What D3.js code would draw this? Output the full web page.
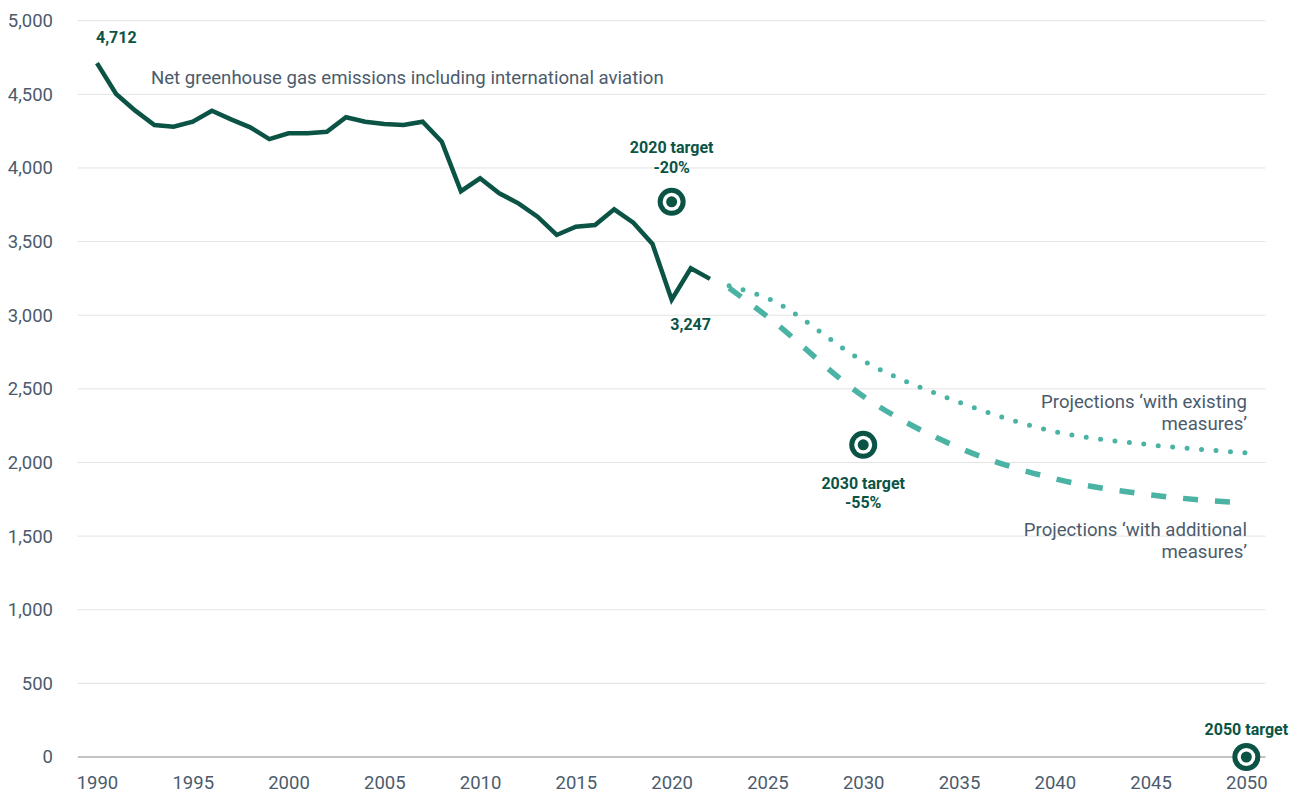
<!DOCTYPE html>
<html>
<head>
<meta charset="utf-8">
<script src="https://cdn.jsdelivr.net/npm/d3@7"></script>
<style>
  html, body { margin: 0; padding: 0; background: #fff; }
  svg { display: block; font-family: Roboto, "Noto Sans", sans-serif; }
</style>
</head>
<body>
<svg id="chart" width="1299" height="794"></svg>
<script>
// Net greenhouse gas emissions (Mt CO2e), including international aviation
const years = d3.range(1990, 2023);
const emissions = [
  4712, 4502, 4389, 4292, 4280, 4314, 4389, 4330, 4276, 4196,
  4235, 4235, 4246, 4344, 4314, 4298, 4292, 4314, 4178, 3842,
  3930, 3828, 3760, 3669, 3545, 3601, 3613, 3719, 3628, 3484,
  3105, 3319, 3247
];

// Projections
const projYears = [2023, 2025, 2030, 2035, 2040, 2045, 2050];
const withExisting = [3200, 3115, 2690, 2410, 2210, 2120, 2066];
const withAdditional = [3185, 2990, 2450, 2100, 1890, 1780, 1725];

// Targets
const targetYears = [2020, 2030, 2050];
const targetValues = [3770, 2120, 0];
const targetLabels = [["2020 target", "-20%"], ["2030 target", "-55%"], ["2050 target"]];

const yTicks = [0, 500, 1000, 1500, 2000, 2500, 3000, 3500, 4000, 4500, 5000];
const xTicks = [1990, 1995, 2000, 2005, 2010, 2015, 2020, 2025, 2030, 2035, 2040, 2045, 2050];

const dark = "#0b5445";
const teal = "#4ab3a4";
const textGrey = "#4b5b6c";

const svg = d3.select("#chart");
const x = d3.scaleLinear().domain([1989, 2051]).range([77.8, 1265.5]);
const y = d3.scaleLinear().domain([0, 5000]).range([757, 20.7]);

// Y axis labels
const yAxis = d3.axisLeft(y).tickValues(yTicks).tickFormat(d3.format(",")).tickSize(0).tickPadding(0);
const gy = svg.append("g").attr("transform", "translate(53,0)").call(yAxis);
gy.select(".domain").remove();
gy.selectAll("text").attr("fill", textGrey).attr("font-size", 18.5).attr("font-family", "Roboto");

// Horizontal gridlines
svg.append("g").selectAll("line").data(yTicks.filter(d => d > 0)).join("line")
  .attr("x1", x.range()[0]).attr("x2", x.range()[1])
  .attr("y1", d => y(d)).attr("y2", d => y(d))
  .attr("stroke", "#e3e3e3").attr("stroke-width", 1);

svg.append("line")
  .attr("x1", x.range()[0]).attr("x2", x.range()[1])
  .attr("y1", y(0)).attr("y2", y(0))
  .attr("stroke", "#8a8a8a").attr("stroke-width", 1.2);

// X axis labels
const xAxis = d3.axisBottom(x).tickValues(xTicks).tickFormat(d3.format("d")).tickSize(0).tickPadding(0);
const gx = svg.append("g").attr("transform", "translate(0,776)").call(xAxis);
gx.select(".domain").remove();
gx.selectAll("text").attr("fill", textGrey).attr("font-size", 18.5).attr("font-family", "Roboto").attr("dy", "0.71em");

// Projection lines
const projLine = d3.line().x((d, i) => x(projYears[i])).y(d => y(d)).curve(d3.curveMonotoneX);

svg.append("path").datum(withAdditional)
  .attr("d", projLine).attr("fill", "none")
  .attr("stroke", teal).attr("stroke-width", 5.5)
  .attr("stroke-dasharray", "15 17");

svg.append("path").datum(withExisting)
  .attr("d", projLine).attr("fill", "none")
  .attr("stroke", teal).attr("stroke-width", 5)
  .attr("stroke-linecap", "round")
  .attr("stroke-dasharray", "0 14.5");

// Historical emissions
const histLine = d3.line().x((d, i) => x(years[i])).y(d => y(d));
svg.append("path").datum(emissions)
  .attr("d", histLine).attr("fill", "none")
  .attr("stroke", dark).attr("stroke-width", 4.5)
  .attr("stroke-linejoin", "miter");

// Target markers
const tg = svg.append("g").selectAll("g").data(targetYears).join("g")
  .attr("transform", (d, i) => `translate(${x(d)},${y(targetValues[i])})`);
tg.append("circle").attr("r", 14).attr("fill", dark);
tg.append("circle").attr("r", 9).attr("fill", "#fff");
tg.append("circle").attr("r", 5.5).attr("fill", dark);

// Target labels
const labelOffsets = [[-49, -29], [44, 63], [-22]];
targetYears.forEach((yr, i) => {
  targetLabels[i].forEach((t, j) => {
    svg.append("text")
      .attr("x", x(yr)).attr("y", y(targetValues[i]) + labelOffsets[i][j])
      .attr("text-anchor", "middle").attr("fill", dark)
      .attr("font-size", 16).attr("font-weight", 700)
      .text(t);
  });
});

// Value labels
svg.append("text").attr("x", x(1990) - 1).attr("y", y(emissions[0]) - 20)
  .attr("fill", dark).attr("font-size", 16).attr("font-weight", 700)
  .text(d3.format(",")(emissions[0]));
svg.append("text").attr("x", x(2020) + 19).attr("y", y(emissions[emissions.length - 1]) + 51)
  .attr("text-anchor", "middle").attr("fill", dark).attr("font-size", 16).attr("font-weight", 700)
  .text(d3.format(",")(emissions[emissions.length - 1]));

// Series annotations
svg.append("text").attr("x", 151).attr("y", 84)
  .attr("fill", textGrey).attr("font-size", 18.6)
  .text("Net greenhouse gas emissions including international aviation");

const rightX = 1247;
[["Projections \u2018with existing", 408], ["measures\u2019", 430],
 ["Projections \u2018with additional", 536], ["measures\u2019", 558]].forEach(([t, yy]) => {
  svg.append("text").attr("x", rightX).attr("y", yy)
    .attr("text-anchor", "end").attr("fill", textGrey).attr("font-size", 18.6)
    .text(t);
});
</script>
</body>
</html>
